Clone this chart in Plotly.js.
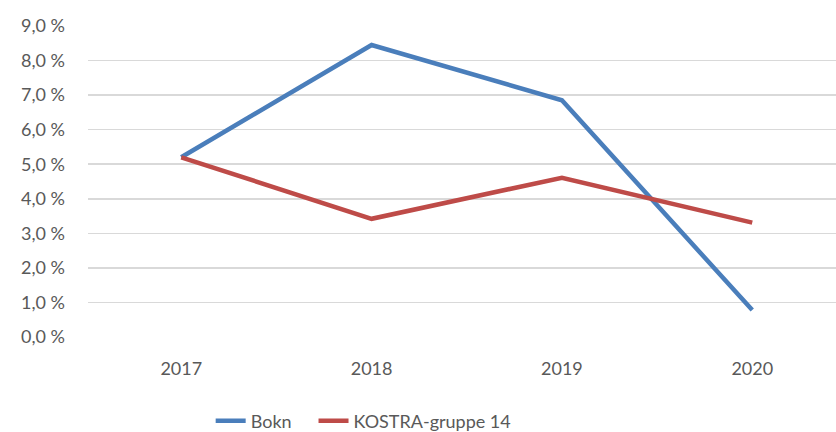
<!DOCTYPE html>
<html>
<head>
<meta charset="utf-8">
<script src="https://cdn.plot.ly/plotly-3.0.1.min.js"></script>
<style>html,body{margin:0;padding:0;background:#fff;overflow:hidden}#chart{width:836px;height:432px}</style>
</head>
<body>
<div id="chart"></div>
<script>
const years = ["2017", "2018", "2019", "2020"];
const seriesNames = ["Bokn", "KOSTRA-gruppe 14"];
const bokn = [5.2, 8.45, 6.85, 0.78];
const kostra = [5.2, 3.42, 4.61, 3.31];
const yTickVals = [0, 1, 2, 3, 4, 5, 6, 7, 8, 9];
const yTickText = ["0,0 %", "1,0 %", "2,0 %", "3,0 %", "4,0 %", "5,0 %", "6,0 %", "7,0 %", "8,0 %", "9,0 %"];

const font = {family: "Lato, 'Open Sans', sans-serif", size: 18, color: "#595959"};

const traces = [
  {x: years, y: bokn, name: seriesNames[0], type: "scatter", mode: "lines",
   line: {color: "#4A7EBB", width: 4.5}, legend: "legend"},
  {x: years, y: kostra, name: seriesNames[1], type: "scatter", mode: "lines",
   line: {color: "#BE4B48", width: 4.5}, legend: "legend2"}
];

const legendBase = {orientation: "h", xanchor: "left", yref: "container", y: 0.068,
                    yanchor: "top", font: font, itemwidth: 30, borderwidth: 0,
                    bgcolor: "rgba(0,0,0,0)"};

const layout = {
  width: 836, height: 432,
  margin: {l: 88, r: 0, t: 26, b: 95},
  paper_bgcolor: "#fff", plot_bgcolor: "#fff",
  font: font,
  showlegend: true,
  legend: Object.assign({}, legendBase, {x: 0.164}),
  legend2: Object.assign({}, legendBase, {x: 0.3015}),
  xaxis: {type: "category", range: [-0.49, 3.44], showgrid: false, zeroline: false,
          showline: false, ticks: "", ticklabelstandoff: 19, tickfont: font},
  yaxis: {range: [0, 9], tickvals: yTickVals, ticktext: yTickText, showgrid: true,
          gridcolor: "#D9D9D9", gridwidth: 1.5, zeroline: false, showline: false,
          ticks: "", ticklabelstandoff: 22, tickfont: font},
  hovermode: false
};

Plotly.newPlot("chart", traces, layout, {displayModeBar: false, staticPlot: true});
</script>
</body>
</html>
